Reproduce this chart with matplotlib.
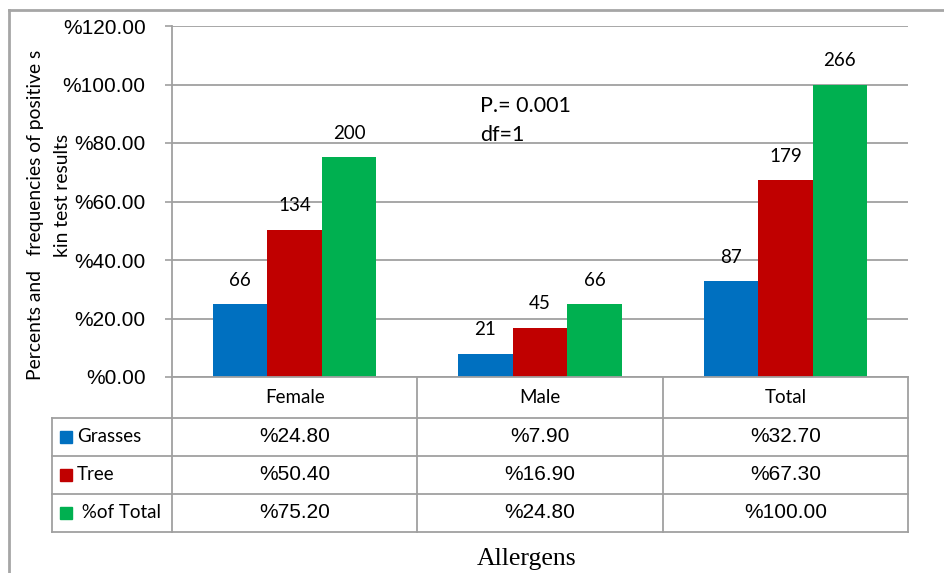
import numpy as np
import matplotlib.pyplot as plt
import matplotlib.transforms as mtransforms
from matplotlib.lines import Line2D
from matplotlib.patches import Rectangle

# skin test results by sex
groups = ['Female', 'Male', 'Total']
series = ['Grasses', 'Tree', ' %of Total']
colors = ['#0070C0', '#C00000', '#00B050']

grasses_pct = [24.8, 7.9, 32.7]
tree_pct = [50.4, 16.9, 67.3]
total_pct = [75.2, 24.8, 100.0]

grasses_n = [66, 21, 87]
tree_n = [134, 45, 179]
total_n = [200, 66, 266]

pcts = [grasses_pct, tree_pct, total_pct]
counts = [grasses_n, tree_n, total_n]

yticks = [0, 20, 40, 60, 80, 100, 120]

W, H = 944, 573
fig = plt.figure(figsize=(W / 100, H / 100), dpi=100)


def fx(x):
    return x / W


def fy(y):
    return 1 - y / H


grid_col = '#A0A0A0'
sans = 'Liberation Sans'
calib = 'Lato'

ax = fig.add_axes([fx(172), fy(377), fx(908) - fx(172), fy(26) - fy(377)])
x = np.arange(len(groups))
w = 1 / 4.5
for i, (name, vals, cnt) in enumerate(zip(series, pcts, counts)):
    xs = x + (i - 1) * w
    ys = np.array(vals) / 100
    ax.bar(xs, ys, width=w, color=colors[i], zorder=3)
    for xi, yi, c in zip(xs, ys, cnt):
        ax.annotate(str(c), (xi, yi), xytext=(0, 24), textcoords='offset pixels',
                    ha='center', va='center', fontsize=13.5, family=calib)

ax.set_xlim(-0.5, len(groups) - 0.5)
ax.set_ylim(0, 1.2)
ax.set_yticks([t / 100 for t in yticks])
ax.set_yticklabels(['%{:.2f}'.format(t) for t in yticks], fontsize=15, family=sans)
ax.set_xticks([])
ax.yaxis.grid(True, color=grid_col, lw=1.3, zorder=0)
ax.tick_params(axis='y', length=5, width=1.2, color=grid_col, pad=14)
for s in ['top', 'right', 'bottom']:
    ax.spines[s].set_visible(False)
ax.spines['left'].set_color(grid_col)
ax.spines['left'].set_linewidth(1.3)

ax.text(0.419, 0.772, 'P.= 0.001', transform=ax.transAxes, fontsize=15.5, family=calib, va='center')
ax.text(0.419, 0.69, 'df=1', transform=ax.transAxes, fontsize=15.5, family=calib, va='center')

# data table under the plot
tr = mtransforms.blended_transform_factory(ax.transData, fig.transFigure)
row_y = [377, 418, 456, 494, 532]
lkw = dict(color=grid_col, lw=1.3)

fig.add_artist(Line2D([-0.5, 2.5], [fy(377), fy(377)], transform=tr, **lkw))
for xb in np.arange(-0.5, len(groups) + 0.5):
    fig.add_artist(Line2D([xb, xb], [fy(377), fy(532)], transform=tr, **lkw))
for yb in row_y[1:]:
    fig.add_artist(Line2D([fx(52), fx(172)], [fy(yb), fy(yb)], **lkw))
    fig.add_artist(Line2D([-0.5, 2.5], [fy(yb), fy(yb)], transform=tr, **lkw))
fig.add_artist(Line2D([fx(52), fx(52)], [fy(418), fy(532)], **lkw))

for j, g in enumerate(groups):
    fig.text(j, fy((377 + 418) / 2), g, transform=tr, ha='center', va='center',
             fontsize=13.5, family=calib)
for i, (name, vals) in enumerate(zip(series, pcts)):
    yc = fy((row_y[i + 1] + row_y[i + 2]) / 2)
    fig.add_artist(Rectangle((fx(60), yc - 6 / H), 12 / W, 12 / H,
                             transform=fig.transFigure, color=colors[i]))
    fig.text(fx(77), yc, name, ha='left', va='center', fontsize=13.5, family=calib)
    for j, v in enumerate(vals):
        fig.text(j, yc, '%{:.2f}'.format(v), transform=tr, ha='center', va='center',
                 fontsize=15, family=sans)

fig.text(fx(527), fy(565), 'Allergens', ha='center', va='baseline', fontsize=18.5,
         family='Liberation Serif')

fig.text(fx(36), fy(215), 'Percents and   frequencies of positive s', rotation=90,
         ha='center', va='center', fontsize=13.9, family=calib)
fig.text(fx(62), fy(195), 'kin test results', rotation=90,
         ha='center', va='center', fontsize=13.9, family=calib)

# chart frame
fig.add_artist(Line2D([fx(9), fx(9)], [fy(10), 0], color='#A6A6A6', lw=2))
fig.add_artist(Line2D([fx(9), 1], [fy(10), fy(10)], color='#A6A6A6', lw=2))

fig.savefig('out.png', dpi=100)
